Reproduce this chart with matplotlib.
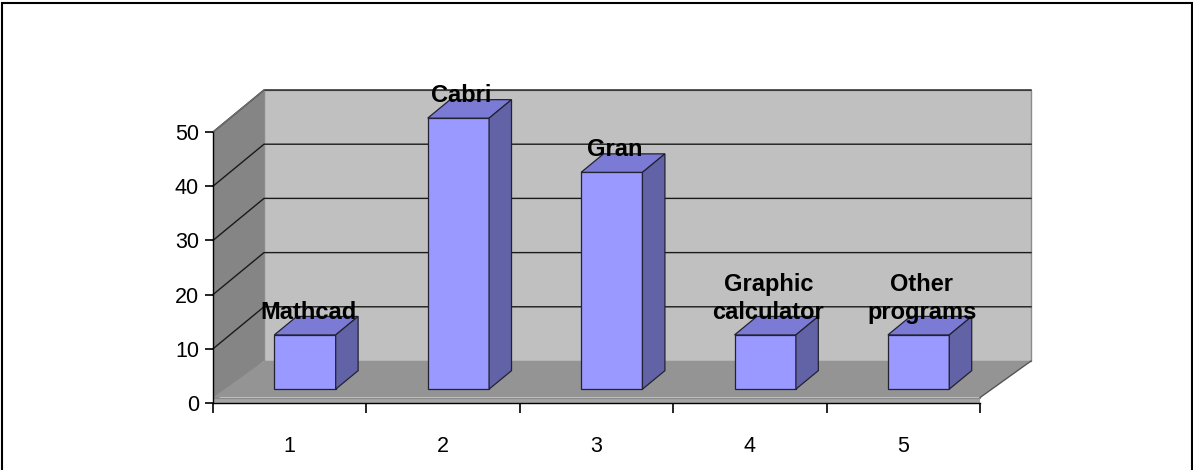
import matplotlib
matplotlib.use("Agg")
import matplotlib.pyplot as plt
from matplotlib.patches import Polygon, Rectangle

# ---- data ----
categories = ["1", "2", "3", "4", "5"]
labels = ["Mathcad", "Cabri", "Gran", "Graphic\ncalculator", "Other\nprograms"]
values = [10, 50, 40, 10, 10]
yticks = [0, 10, 20, 30, 40, 50]

W, H = 1193, 470
DPI = 100
plt.rcParams['font.family'] = ['Liberation Sans', 'DejaVu Sans']

fig = plt.figure(figsize=(W / DPI, H / DPI), dpi=DPI)
fig.patch.set_facecolor('white')

# front plane of the 3-D box, in pixels
L, R, B, T = 213, 980, 403, 132
ax = fig.add_axes([L / W, (H - B) / H, (R - L) / W, (B - T) / H])
n = len(categories)
ymax = yticks[-1]
ax.set_xlim(0, n)
ax.set_ylim(0, ymax)
ax.patch.set_visible(False)

# depth offset (data units for full depth)
px_x = (R - L) / n
px_y = (B - T) / ymax
DX = 51 / px_x
DY = 42 / px_y


def P(x, y, d):
    return (x + d * DX, y + d * DY)


def poly(pts, fc, ec='none', lw=0.0, z=1):
    ax.add_patch(Polygon(pts, closed=True, facecolor=fc, edgecolor=ec,
                         linewidth=lw, zorder=z, clip_on=False, joinstyle='miter'))


# walls
poly([P(0, 0, 1), P(n, 0, 1), P(n, ymax, 1), P(0, ymax, 1)], '#C0C0C0', '#8C8C8C', 1.0, 1)
poly([P(0, 0, 0), P(0, ymax, 0), P(0, ymax, 1), P(0, 0, 1)], '#858585', 'none', 0, 1)
# floor with a thin front edge
ft = 1.0
poly([P(0, ft, 0), P(n, ft, 0), P(n, 0, 1), P(0, 0, 1)], '#949494', 'none', 0, 2)
poly([P(0, 0, 0), P(n, 0, 0), P(n, ft, 0), P(0, ft, 0)], '#A3A3A3', 'none', 0, 2)
ax.plot(*zip(P(n, ft, 0), P(n, 0, 1)), color='#555555', lw=1.0, zorder=2.5, clip_on=False)
ax.plot(*zip(P(0, ft, 0), P(n, ft, 0)), color='#8A8A8A', lw=0.8, zorder=2.5, clip_on=False)

# gridlines on side and back walls
for v in yticks[1:]:
    a, b, c = P(0, v, 0), P(0, v, 1), P(n, v, 1)
    ax.plot([a[0], b[0], c[0]], [a[1], b[1], c[1]], color='#1a1a1a', lw=1.0,
            zorder=1.5, clip_on=False, solid_joinstyle='miter')
ax.plot(*zip(P(0, ymax, 0), P(0, ymax, 1)), color='#707070', lw=1.0, zorder=1.5, clip_on=False)

# bars
d0, d1 = 0.33, 0.77
off, bw = 0.29, 0.40
front_c, top_c, side_c = '#9999FF', '#7B7BD6', '#6262A6'
edge = '#222233'
for i, v in enumerate(values):
    x0 = i + off
    x1 = x0 + bw
    z = 3 + i * 0.01
    # front face
    poly([P(x0, 0, d0), P(x1, 0, d0), P(x1, v, d0), P(x0, v, d0)], front_c, edge, 0.9, z)
    # top
    poly([P(x0, v, d0), P(x1, v, d0), P(x1, v, d1), P(x0, v, d1)], top_c, edge, 0.9, z)
    # side
    poly([P(x1, 0, d0), P(x1, 0, d1), P(x1, v, d1), P(x1, v, d0)], side_c, edge, 0.9, z)
    # label above bar
    lx = P(x0 + bw / 2 + 0.02, v, d0)[0]
    ly = P(x0, v, 0.72)[1]
    lines = labels[i].split("\n")
    for k, line in enumerate(lines):
        ax.annotate(line, xy=(lx, ly), xytext=(0, (len(lines) - 1 - k) * 19.5),
                    textcoords='offset points', ha='center', va='baseline',
                    fontsize=17, fontweight='bold', color='black', zorder=10,
                    annotation_clip=False)

# axes spines and ticks
for s in ['top', 'right']:
    ax.spines[s].set_visible(False)
ax.spines['left'].set_color('black')
ax.spines['bottom'].set_color('black')
ax.spines['left'].set_linewidth(1.0)
ax.spines['bottom'].set_linewidth(1.0)
ax.spines['left'].set_zorder(5)
ax.spines['bottom'].set_zorder(5)

ax.set_yticks(yticks)
ax.set_yticklabels([str(t) for t in yticks])
ax.tick_params(axis='y', direction='out', length=6, width=1.2, pad=4, labelsize=15.5, colors='black')

ax.set_xticks(range(n + 1))
ax.set_xticklabels([''] * (n + 1))
ax.set_xticks([i + 0.5 for i in range(n)], minor=True)
ax.set_xticklabels(categories, minor=True)
ax.tick_params(axis='x', which='major', direction='out', length=7, width=1.2)
ax.tick_params(axis='x', which='minor', length=0, pad=24, labelsize=15.5)

# outer border (left, top, right only visible)
fig.add_artist(Rectangle((2 / W, -5 / H), (W - 3.5) / W, (H + 2.5) / H,
                         transform=fig.transFigure, fill=False,
                         edgecolor='black', linewidth=1.5))

fig.savefig('out.png', dpi=DPI)
